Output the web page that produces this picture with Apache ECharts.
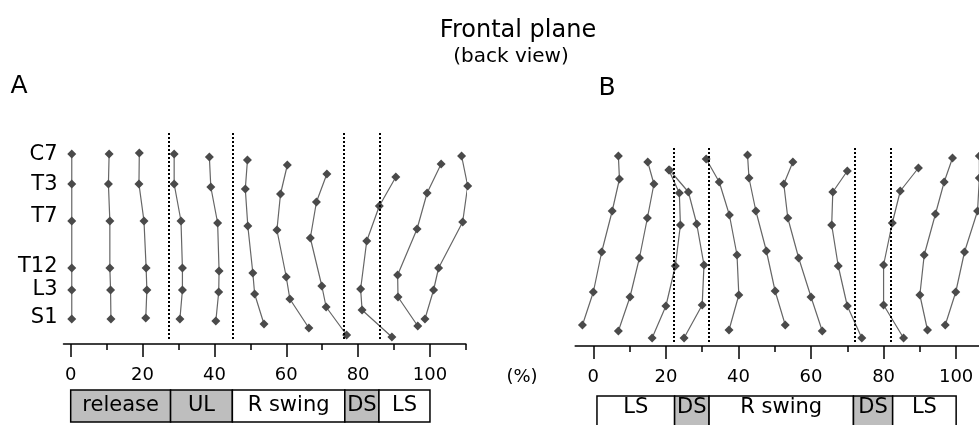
<!DOCTYPE html>
<html>
<head>
<meta charset="utf-8">
<script src="https://cdn.jsdelivr.net/npm/echarts@6/dist/echarts.min.js"></script>
<style>
html,body{margin:0;padding:0;background:#fff;}
#chart{width:979px;height:425px;}
</style>
</head>
<body>
<div id="chart"></div>
<script>
// ---- data ----
const xTicksMajor = [0, 20, 40, 60, 80, 100];
const xTicksMinor = [10, 30, 50, 70, 90, 110];
const levelNames = ['C7', 'T3', 'T7', 'T12', 'L3', 'S1'];
const levelHeights = [189, 159, 127, 77, 54, 26];

// Panel A profiles: x = % of cycle (+ lateral offset), y = height
const profilesAX = [
  [0.3, 0.3, 0.3, 0.3, 0.3, 0.3],
  [10.7, 10.5, 10.9, 10.9, 11.1, 11.2],
  [19.1, 19.0, 20.4, 21.0, 21.2, 20.9],
  [28.8, 28.8, 30.7, 31.1, 31.1, 30.4],
  [38.6, 39.0, 40.9, 41.3, 41.2, 40.4],
  [49.2, 48.6, 49.3, 50.7, 51.2, 53.8],
  [60.3, 58.4, 57.4, 60.0, 61.0, 66.3],
  [71.3, 68.4, 66.7, 69.9, 71.1, 76.8],
  [90.5, 85.9, 82.4, 80.7, 81.1, 89.4],
  [103.1, 99.2, 96.4, 91.0, 91.1, 96.6],
  [108.8, 110.5, 109.1, 102.4, 101.0, 98.6]
];
const profilesAY = [
  [190, 160, 123, 76, 54, 25],
  [190, 160, 123, 76, 54, 25],
  [191, 160, 123, 76, 54, 26],
  [190, 160, 123, 76, 54, 25],
  [187, 157, 121, 73, 52, 23],
  [184, 155, 118, 71, 50, 20],
  [179, 150, 114, 67, 45, 16],
  [170, 142, 106, 58, 37, 9],
  [167, 138, 103, 55, 34, 7],
  [180, 151, 115, 69, 47, 18],
  [188, 158, 122, 76, 54, 25]
];

// Panel B profiles
const profilesBX = [
  [6.9, 7.2, 5.2, 2.3, 0.0, -3.0],
  [15.0, 16.7, 14.9, 12.7, 10.1, 6.9],
  [20.8, 23.7, 24.0, 22.6, 20.0, 16.2],
  [21.0, 26.2, 28.5, 30.5, 30.0, 25.0],
  [31.1, 34.7, 37.5, 39.6, 40.1, 37.4],
  [42.5, 42.9, 44.8, 47.7, 50.1, 52.9],
  [55.0, 52.5, 53.6, 56.6, 60.0, 63.1],
  [70.0, 66.0, 65.7, 67.5, 70.0, 74.0],
  [89.6, 84.6, 82.4, 80.0, 80.0, 85.5],
  [99.0, 96.7, 94.3, 91.2, 90.0, 92.1],
  [106.4, 106.4, 105.9, 102.3, 99.9, 97.0]
];
const profilesBY = [
  [190, 167, 135, 94, 54, 21],
  [184, 162, 128, 88, 49, 15],
  [176, 153, 121, 80, 40, 8],
  [176, 154, 122, 81, 41, 8],
  [187, 164, 131, 91, 51, 16],
  [191, 168, 135, 95, 55, 21],
  [184, 162, 128, 88, 49, 15],
  [175, 154, 121, 80, 40, 8],
  [178, 155, 123, 81, 41, 8],
  [188, 164, 132, 91, 51, 16],
  [190, 168, 135, 94, 54, 21]
];

// Gait phases
const phaseNamesA = ['release', 'UL', 'R swing', 'DS', 'LS'];
const phaseBoundsA = [0, 27.8, 45, 76.3, 85.8, 100];
const phaseShadedA = [true, true, false, true, false];
const dividersA = [27.2, 45, 76.1, 85.9];

const phaseNamesB = ['LS', 'DS', 'R swing', 'DS', 'LS'];
const phaseBoundsB = [1, 22.4, 31.9, 71.7, 82.5, 100];
const phaseShadedB = [false, true, false, true, false];
const dividersB = [22.1, 31.7, 72.0, 82.1];

// ---- chart ----
const FONT = '"DejaVu Sans", "Lucida Grande", sans-serif';
const chart = echarts.init(document.getElementById('chart'), null, {renderer: 'canvas'});

const rangeA = [-2, 110];
const rangeB = [-5, 106.3];
const gridA = {left: 63.5, width: 402.4, top: 129, height: 215};
const gridB = {left: 575.2, width: 403.8, top: 131, height: 215};

function mainX(gi, range) {
  return [{
    gridIndex: gi, type: 'value', min: range[0], max: range[1],
    position: 'bottom',
    axisLine: {show: true, onZero: false, lineStyle: {color: '#000', width: 1.5}},
    axisTick: {show: true, length: 13, customValues: xTicksMajor, lineStyle: {color: '#000', width: 1.5}},
    axisLabel: {show: true, customValues: xTicksMajor, margin: 22, color: '#000', fontSize: 18, fontFamily: FONT},
    splitLine: {show: false}
  }, {
    gridIndex: gi, type: 'value', min: range[0], max: range[1],
    position: 'bottom',
    axisLine: {show: false, onZero: false},
    axisTick: {show: true, length: 6, customValues: xTicksMinor.filter(v => v <= range[1]), lineStyle: {color: '#000', width: 1.5}},
    axisLabel: {show: false},
    splitLine: {show: false}
  }];
}

const xAxes = [].concat(mainX(0, rangeA), mainX(1, rangeB), [
  {gridIndex: 2, type: 'value', min: rangeA[0], max: rangeA[1], show: false},
  {gridIndex: 3, type: 'value', min: rangeB[0], max: rangeB[1], show: false}
]);
const yAxes = [
  {gridIndex: 0, type: 'value', min: 0, max: 215,
   axisLine: {show: false}, axisTick: {show: false}, splitLine: {show: false},
   axisLabel: {customValues: levelHeights, margin: 6, color: '#000', fontSize: 21, fontFamily: FONT,
     formatter: v => levelNames[levelHeights.indexOf(v)]}},
  {gridIndex: 1, type: 'value', min: 0, max: 215, show: false},
  {gridIndex: 2, type: 'value', min: 0, max: 1, show: false},
  {gridIndex: 3, type: 'value', min: 0, max: 1, show: false}
];

function profileSeries(X, Y, xi, yi, dividers, yBot, yTop) {
  return X.map((xs, k) => {
    const s = {
      type: 'line', xAxisIndex: xi, yAxisIndex: yi,
      data: xs.map((x, j) => [x, Y[k][j]]),
      symbol: 'diamond', symbolSize: 9, showSymbol: true, clip: false,
      lineStyle: {color: '#666', width: 1.2},
      itemStyle: {color: '#4a4a4a'},
      silent: true, animation: false, z: 3
    };
    if (k === 0) {
      s.markLine = {
        silent: true, symbol: 'none', animation: false,
        label: {show: false},
        lineStyle: {color: '#000', width: 2, type: [2, 2]},
        data: dividers.map(d => [{coord: [d, yBot]}, {coord: [d, yTop]}])
      };
    }
    return s;
  });
}

function phaseSeries(names, bounds, shaded, xi, yi, textOffset, bottomValue) {
  return {
    type: 'custom', xAxisIndex: xi, yAxisIndex: yi, silent: true, animation: false, clip: false,
    data: names.map((n, i) => [bounds[i], bounds[i + 1]]),
    renderItem: (params, api) => {
      const i = params.dataIndex;
      const p0 = api.coord([api.value(0), 1]);
      const p1 = api.coord([api.value(1), bottomValue]);
      return {
        type: 'group',
        children: [{
          type: 'rect',
          shape: {x: p0[0], y: p0[1], width: p1[0] - p0[0], height: p1[1] - p0[1]},
          style: {fill: shaded[i] ? '#bebebe' : '#fff', stroke: '#000', lineWidth: 1.5}
        }, {
          type: 'text',
          style: {text: names[i], x: (p0[0] + p1[0]) / 2, y: p0[1] + textOffset,
            align: 'center', verticalAlign: 'middle', fill: '#000',
            font: '21px ' + FONT}
        }]
      };
    }
  };
}

const series = [].concat(
  profileSeries(profilesAX, profilesAY, 0, 0, dividersA, 5, 211),
  profileSeries(profilesBX, profilesBY, 2, 1, dividersB, 4, 199),
  [phaseSeries(phaseNamesA, phaseBoundsA, phaseShadedA, 4, 2, 16, 0),
   phaseSeries(phaseNamesB, phaseBoundsB, phaseShadedB, 5, 3, 12, -1)]
);

chart.setOption({
  animation: false,
  backgroundColor: '#fff',
  grid: [
    Object.assign({}, gridA),
    Object.assign({}, gridB),
    {left: 63.5, width: 402.4, top: 390, height: 32},
    {left: 575.2, width: 403.8, top: 396, height: 29}
  ],
  xAxis: xAxes,
  yAxis: yAxes,
  graphic: [
    {type: 'text', style: {text: 'Frontal plane', x: 518, y: 31, align: 'center', verticalAlign: 'middle', font: '24px ' + FONT, fill: '#000'}},
    {type: 'text', style: {text: '(back view)', x: 511, y: 57, align: 'center', verticalAlign: 'middle', font: '20px ' + FONT, fill: '#000'}},
    {type: 'text', style: {text: 'A', x: 19, y: 86, align: 'center', verticalAlign: 'middle', font: '25px ' + FONT, fill: '#000'}},
    {type: 'text', style: {text: 'B', x: 607, y: 88, align: 'center', verticalAlign: 'middle', font: '25px ' + FONT, fill: '#000'}},
    {type: 'text', style: {text: '(%)', x: 522, y: 377, align: 'center', verticalAlign: 'middle', font: '18px ' + FONT, fill: '#000'}}
  ],
  series: series
});
</script>
</body>
</html>
